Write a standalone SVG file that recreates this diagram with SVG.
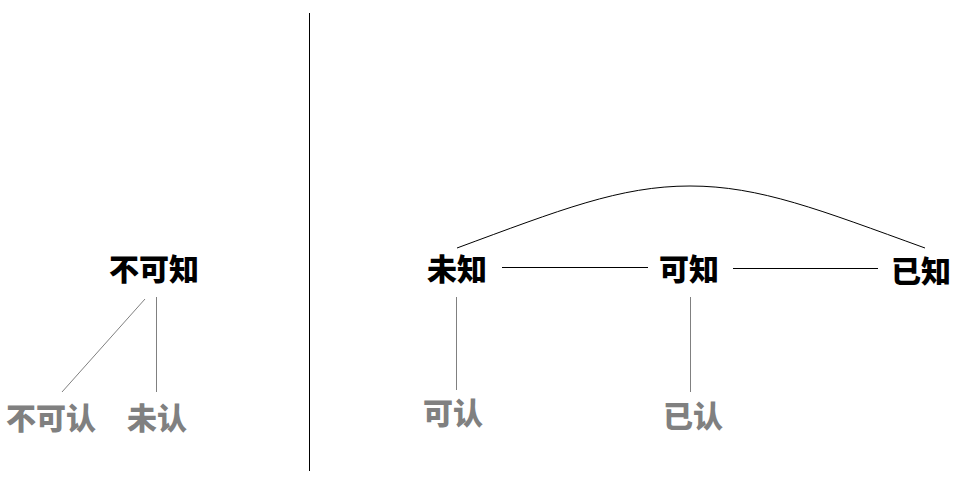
<svg xmlns="http://www.w3.org/2000/svg" width="978" height="498" viewBox="0 0 978 498">
<style>
.t{font-family:"Noto Sans CJK SC","Noto Sans",sans-serif;font-weight:900;font-size:30px;text-anchor:middle;dominant-baseline:central}
.k{fill:#000}
.g{fill:#808080}
.c{stroke:#000;stroke-width:1;fill:none}
.cg{stroke:#808080;stroke-width:1;fill:none}
</style>
<rect width="978" height="498" fill="#fff"/>
<line x1="309.5" y1="13" x2="309.5" y2="471" stroke="#000" stroke-width="1"/>
<g id="connectors">
<line class="cg" x1="145" y1="299" x2="62" y2="392"/>
<line class="cg" x1="156.5" y1="297" x2="156.5" y2="392"/>
<line class="c" x1="502" y1="267.5" x2="648" y2="267.5"/>
<line class="c" x1="733" y1="268.5" x2="878" y2="268.5"/>
<path class="c" d="M457,248 C560,210 620,186 690,186 C760,186 820,210 925,248"/>
<line class="cg" x1="456.5" y1="297" x2="456.5" y2="390"/>
<line class="cg" x1="690.5" y1="297" x2="690.5" y2="392"/>
</g>
<g id="n-bukezhi"><text class="t k" x="154" y="267">不可知</text></g>
<g id="n-bukeren"><text class="t g" x="51" y="416">不可认</text></g>
<g id="n-weiren"><text class="t g" x="157" y="416">未认</text></g>
<g id="n-weizhi"><text class="t k" x="457" y="267">未知</text></g>
<g id="n-kezhi"><text class="t k" x="689" y="267">可知</text></g>
<g id="n-yizhi"><text class="t k" x="921" y="269">已知</text></g>
<g id="n-keren"><text class="t g" x="453" y="411">可认</text></g>
<g id="n-yiren"><text class="t g" x="693" y="414">已认</text></g>
</svg>
